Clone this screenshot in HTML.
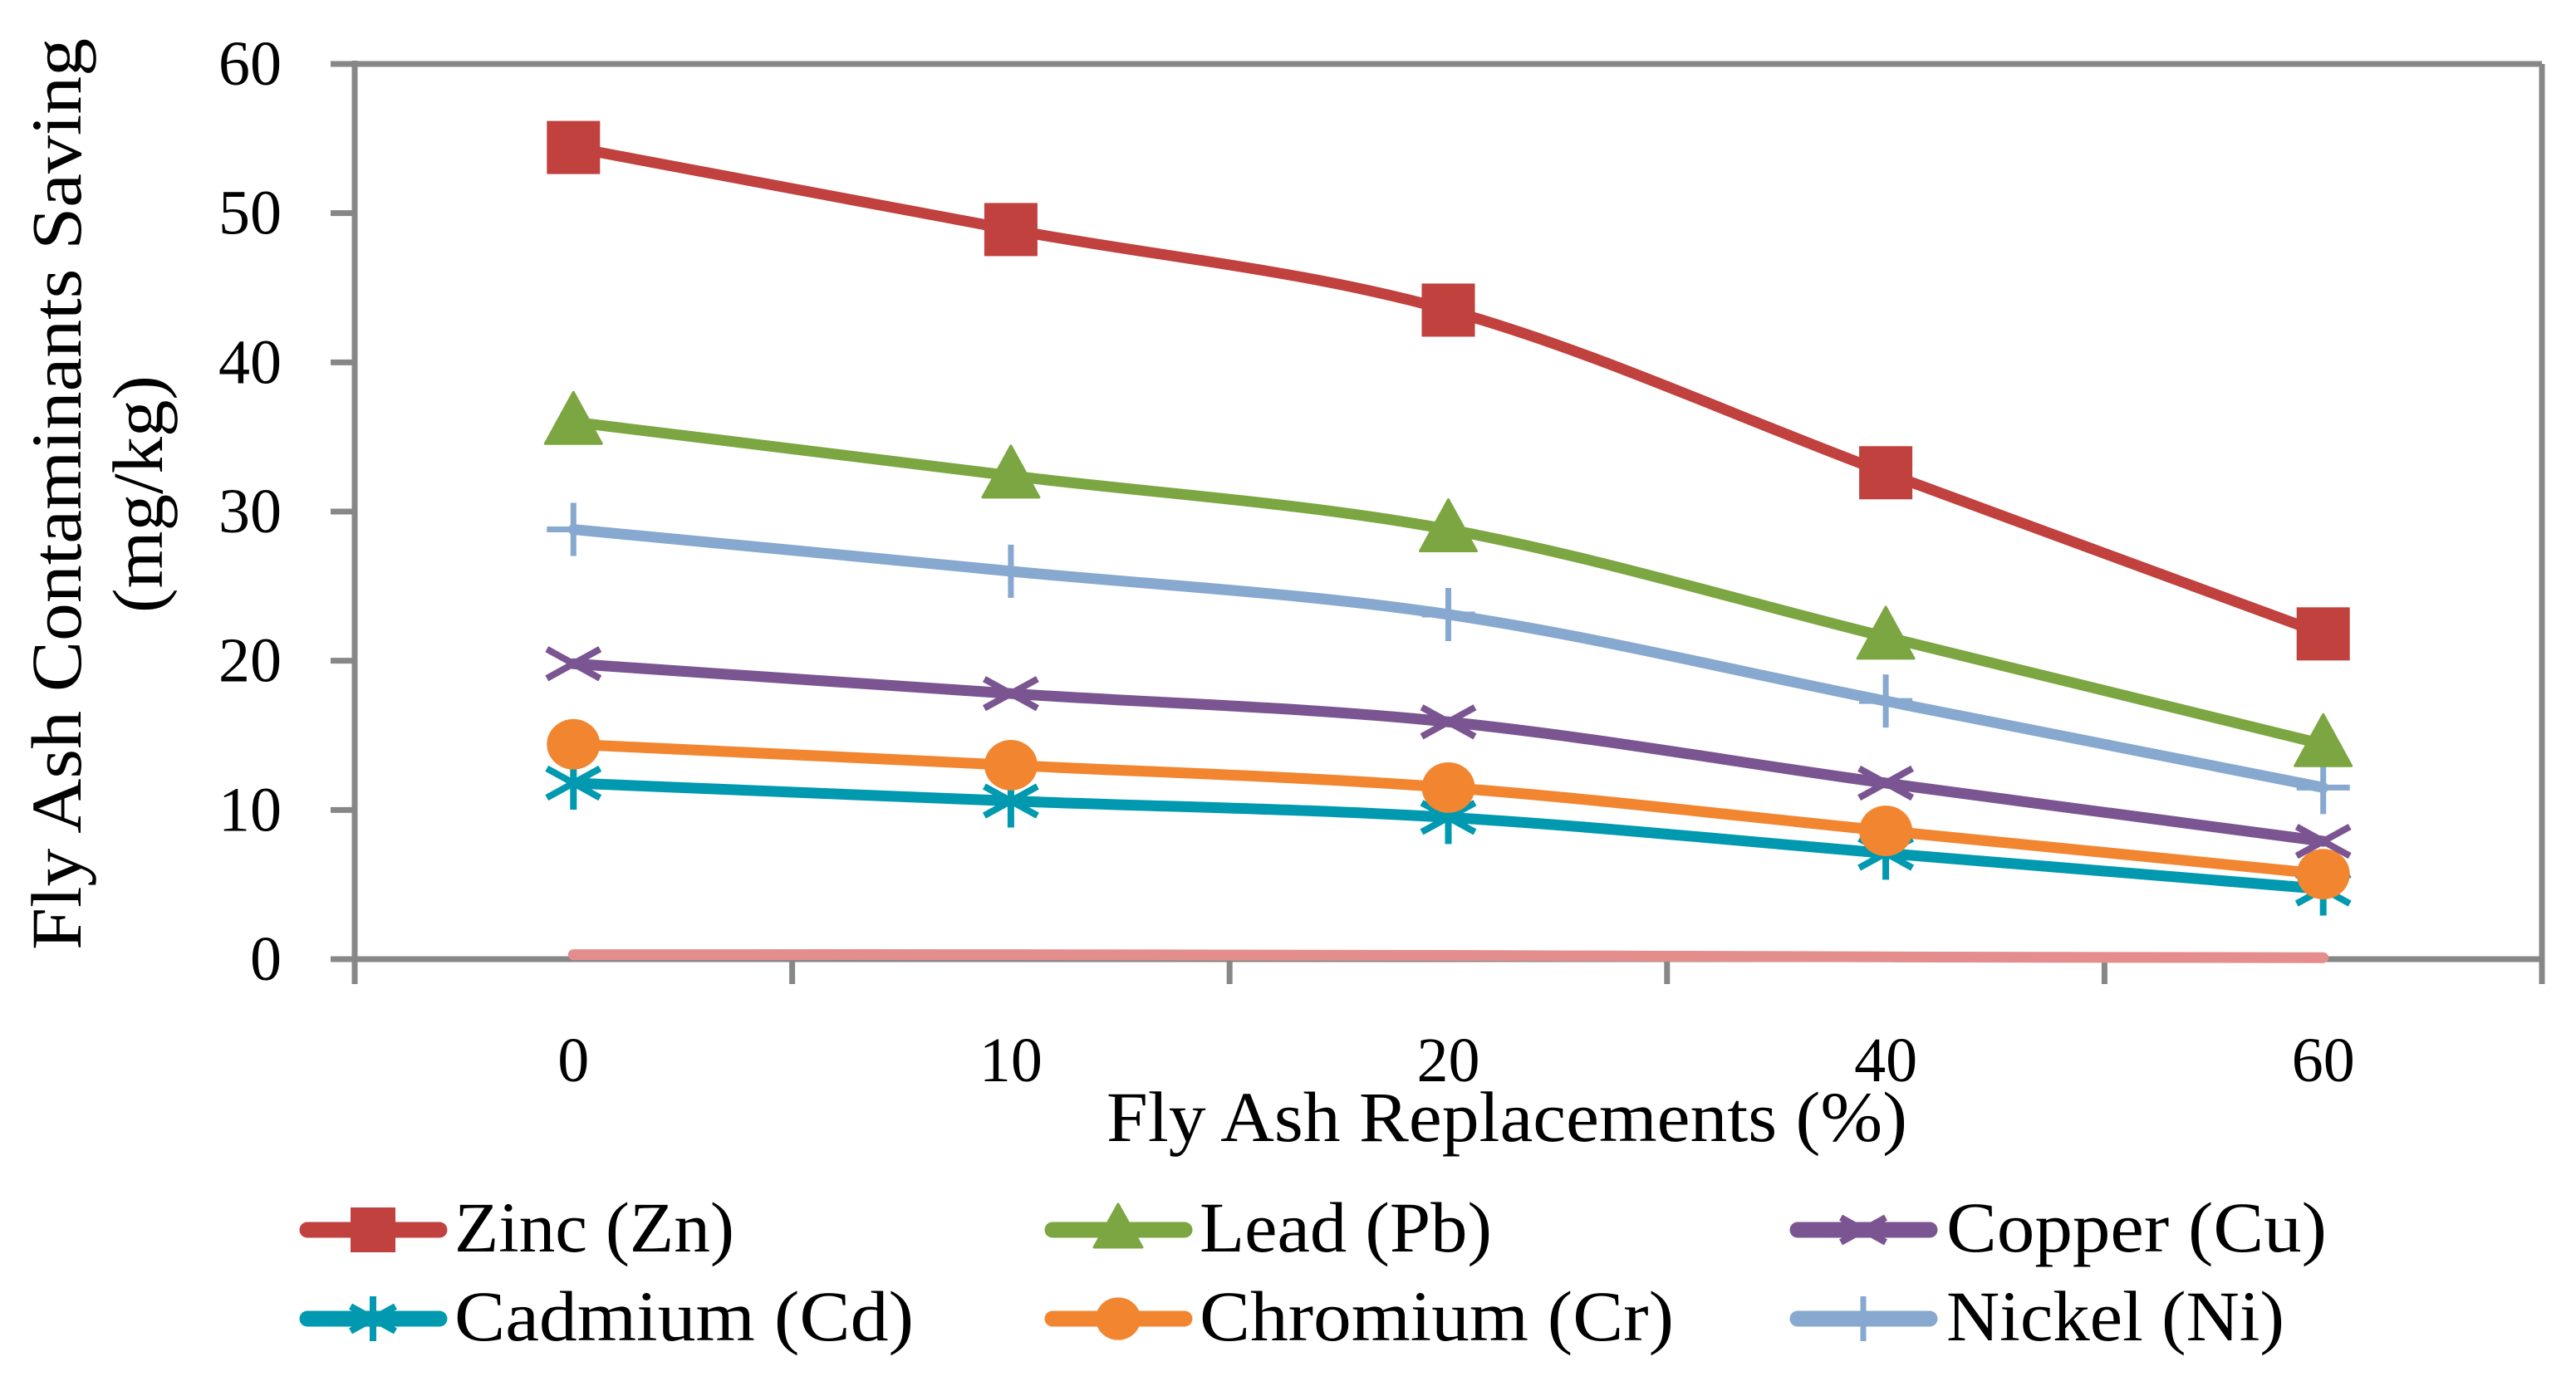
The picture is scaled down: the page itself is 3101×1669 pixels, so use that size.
<!DOCTYPE html>
<html><head><meta charset="utf-8"><style>
html,body{margin:0;padding:0;background:#fff;}
svg{display:block;font-family:"Liberation Serif",serif;}
</style></head><body>
<svg id="chart" width="3101" height="1669" viewBox="0 0 3101 1669" xmlns="http://www.w3.org/2000/svg">
<rect width="3101" height="1669" fill="#fff"/>
<g id="axes"></g>
<g id="series"></g>
<g id="legend"></g>
<text x="1332" y="1374" font-size="86" textLength="964" lengthAdjust="spacingAndGlyphs">Fly Ash Replacements (%)</text>
<text transform="translate(97,595) rotate(-90)" text-anchor="middle" font-size="86" textLength="1098" lengthAdjust="spacingAndGlyphs">Fly Ash Contaminants Saving</text>
<text transform="translate(195,595) rotate(-90)" text-anchor="middle" font-size="86" textLength="286" lengthAdjust="spacingAndGlyphs">(mg/kg)</text>
</svg>
<script>
const categories = ["0","10","20","40","60"];
const yTicks = [0,10,20,30,40,50,60];
const seriesNames = ["Zinc (Zn)","Lead (Pb)","Copper (Cu)","Cadmium (Cd)","Chromium (Cr)","Nickel (Ni)"];
const zinc = [54.4,48.9,43.5,32.6,21.8];
const lead = [36.0,32.4,28.8,21.6,14.4];
const copper = [19.8,17.8,15.9,11.8,7.9];
const cadmium = [11.8,10.6,9.5,7.1,4.7];
const chromium = [14.4,13.0,11.5,8.6,5.7];
const nickel = [28.8,26.0,23.1,17.3,11.5];
const other = [0.3,0.3,0.25,0.15,0.1];

const NS="http://www.w3.org/2000/svg";
const L=427,R=3060,T=77,B=1155,ymax=60;
const band=(R-L)/categories.length;
function xs(i){return L+band*(i+0.5);}
function ys(v){return B-(v/ymax)*(B-T);}
function mk(tag,attrs,parent){const e=document.createElementNS(NS,tag);for(const k in attrs)e.setAttribute(k,attrs[k]);parent.appendChild(e);return e;}
const axes=document.getElementById('axes');
const GR="#878787";
// box
let e;
e=mk('line',{x1:L,y1:T,x2:R,y2:T,stroke:GR,'stroke-width':7},axes);


e=mk('line',{x1:R,y1:T,x2:R,y2:B+30,stroke:GR,'stroke-width':7},axes);


e=mk('line',{x1:L,y1:T-4,x2:L,y2:B+30,stroke:GR,'stroke-width':7},axes);


e=mk('line',{x1:398,y1:B,x2:R,y2:B,stroke:GR,'stroke-width':7},axes);


yTicks.forEach(v=>{
  const t=mk('line',{x1:398,y1:ys(v),x2:L,y2:ys(v),stroke:GR,'stroke-width':7},axes);
  
  
  const lb=mk('text',{x:339,y:ys(v)+25,'text-anchor':'end','font-size':76},axes);
  lb.textContent=String(v);
  
  
});
for(let i=0;i<=categories.length;i++){
  const x=L+band*i;
  const t=mk('line',{x1:x,y1:B,x2:x,y2:B+30,stroke:GR,'stroke-width':7},axes);
  
  
}
categories.forEach((c,i)=>{
  const lb=mk('text',{x:xs(i),y:1302,'text-anchor':'middle','font-size':76},axes);
  lb.textContent=c;
  
  
});
function smoothPath(vals){
  const p=vals.map((v,i)=>[xs(i),ys(v)]);
  let d=`M${p[0][0]},${p[0][1]}`;
  for(let i=0;i<p.length-1;i++){
    const p0=p[Math.max(0,i-1)],p1=p[i],p2=p[i+1],p3=p[Math.min(p.length-1,i+2)];
    const t=1/6;
    const c1=[p1[0]+(p2[0]-p0[0])*t,p1[1]+(p2[1]-p0[1])*t];
    const c2=[p2[0]-(p3[0]-p1[0])*t,p2[1]-(p3[1]-p1[1])*t];
    d+=` C${c1[0]},${c1[1]} ${c2[0]},${c2[1]} ${p2[0]},${p2[1]}`;
  }
  return d;
}
function marker(type,x,y,color,parent,s){
  let g=mk('g',{},parent);
  const h=s/2;
  if(type==='square') mk('rect',{x:x-h,y:y-h,width:s,height:s,fill:color},g);
  else if(type==='triangle') mk('polygon',{points:`${x},${y-h-4} ${x+h+2},${y+h-6} ${x-h-2},${y+h-6}`,fill:color,'stroke':color,'stroke-width':3,'stroke-linejoin':'round'},g);
  else if(type==='circle') mk('ellipse',{cx:x,cy:y,rx:h,ry:h*0.95,fill:color},g);
  else if(type==='x'){mk('path',{d:`M${x-h},${y-h*0.55}L${x+h},${y+h*0.55}M${x-h},${y+h*0.55}L${x+h},${y-h*0.55}`,stroke:color,'stroke-width':8},g);}
  else if(type==='star'){mk('path',{d:`M${x-h},${y-h*0.55}L${x+h},${y+h*0.55}M${x-h},${y+h*0.55}L${x+h},${y-h*0.55}M${x},${y-h}L${x},${y+h}`,stroke:color,'stroke-width':8},g);}
  else if(type==='plus'){mk('path',{d:`M${x-h},${y}L${x+h},${y}M${x},${y-h}L${x},${y+h}`,stroke:color,'stroke-width':7},g);}
  return g;
}
const seriesList=[
  {name:'other',vals:other,color:'#E38D8D',m:null},
  {name:'nickel',vals:nickel,color:'#87A8CF',m:'plus'},
  {name:'cadmium',vals:cadmium,color:'#0099B0',m:'star'},
  {name:'chromium',vals:chromium,color:'#F28630',m:'circle'},
  {name:'copper',vals:copper,color:'#7A5591',m:'x'},
  {name:'lead',vals:lead,color:'#7BA641',m:'triangle'},
  {name:'zinc',vals:zinc,color:'#C0413E',m:'square'}
];
const sg=document.getElementById('series');
seriesList.forEach(s=>{
  const g=mk('g',{},sg);
  
  
  const p=mk('path',{d:smoothPath(s.vals),fill:'none',stroke:s.color,'stroke-width':13,'stroke-linecap':'round','stroke-linejoin':'round'},g);
  
  
  if(s.m){s.vals.forEach((v,i)=>{
    const m=marker(s.m,xs(i),ys(v),s.color,g,64);
    
    
  });}
});
// legend
const lg=document.getElementById('legend');
const legendItems=[
  {label:seriesNames[0],color:'#C0413E',m:'square',x1:361,tx:547,y:1481,tw:337},
  {label:seriesNames[1],color:'#7BA641',m:'triangle',x1:1258,tx:1444,y:1481,tw:352},
  {label:seriesNames[2],color:'#7A5591',m:'x',x1:2155,tx:2343,y:1481,tw:458},
  {label:seriesNames[3],color:'#0099B0',m:'star',x1:361,tx:547,y:1588,tw:553},
  {label:seriesNames[4],color:'#F28630',m:'circle',x1:1258,tx:1444,y:1588,tw:571},
  {label:seriesNames[5],color:'#87A8CF',m:'plus',x1:2155,tx:2343,y:1588,tw:407}
];
legendItems.forEach(it=>{
  const g=mk('g',{},lg);
  
  
  mk('line',{x1:it.x1+9,y1:it.y,x2:it.x1+168,y2:it.y,stroke:it.color,'stroke-width':19,'stroke-linecap':'round'},g);
  marker(it.m,it.x1+88,it.y,it.color,g,54);
  const t=mk('text',{x:it.tx,y:it.y+26,'font-size':86,textLength:it.tw,lengthAdjust:'spacingAndGlyphs'},g);
  t.textContent=it.label;
  
  
});
</script>
</body></html>
